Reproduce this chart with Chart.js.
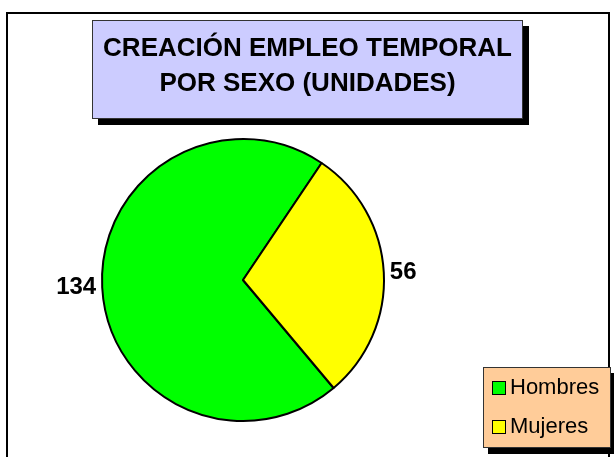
<html>

<head>
    <script src="https://cdn.jsdelivr.net/npm/chart.js"></script>
    <style>
        body {
            margin: 0;
            background: #fff;
            font-family: "Liberation Sans", Arial, sans-serif;
        }

        #wrap {
            position: relative;
            width: 614px;
            height: 457px;
            overflow: hidden;
        }

        #frame {
            position: absolute;
            left: 6px;
            top: 12px;
            width: 600px;
            height: 470px;
            border: 2px solid #000;
        }

        #pie-chart {
            position: absolute;
            left: 0;
            top: 0;
        }

        #title-box {
            position: absolute;
            left: 92px;
            top: 20px;
            width: 429px;
            height: 88px;
            background: #ccccff;
            border: 1px solid #333;
            box-shadow: 6px 6px 0 #000;
            text-align: center;
            font-weight: bold;
            font-size: 26px;
            line-height: 35px;
            padding-top: 9px;
            box-sizing: content-box;
        }

        #legend-box {
            position: absolute;
            left: 483px;
            top: 367px;
            width: 126px;
            height: 79px;
            background: #ffcc99;
            border: 1px solid #333;
            box-shadow: 5px 6px 0 #000;
            font-size: 22px;
        }

        .item {
            position: absolute;
            left: 8px;
            height: 24px;
            line-height: 24px;
            white-space: nowrap;
        }

        .swatch {
            display: inline-block;
            width: 12px;
            height: 12px;
            border: 1.5px solid #000;
            vertical-align: -1px;
            margin-right: 4px;
        }
    </style>
</head>

<body>
    <div id="wrap">
        <div id="frame"></div>
        <canvas id="pie-chart" width="614" height="457"></canvas>
        <div id="title-box">CREACIÓN EMPLEO TEMPORAL<br>POR SEXO (UNIDADES)</div>
        <div id="legend-box"></div>
    </div>

    <script>
        const categories = ['Hombres', 'Mujeres'];
        const values = [134, 56];
        const sliceColors = ['#00ff00', '#ffff00'];

        // legend built from the same arrays
        const legendBox = document.getElementById('legend-box');
        categories.forEach((name, i) => {
            const row = document.createElement('div');
            row.className = 'item';
            row.style.top = (i === 0 ? 7 : 46) + 'px';
            row.innerHTML = '<span class="swatch" style="background:' + sliceColors[i] + '"></span>' + name;
            legendBox.appendChild(row);
        });

        // value labels just outside the pie
        const outsideLabels = {
            id: 'outsideLabels',
            afterDatasetsDraw(chart) {
                const ctx = chart.ctx;
                const meta = chart.getDatasetMeta(0);
                ctx.save();
                ctx.font = 'bold 24px "Liberation Sans", Arial, sans-serif';
                ctx.fillStyle = '#000';
                ctx.textBaseline = 'middle';
                meta.data.forEach((arc, i) => {
                    const mid = (arc.startAngle + arc.endAngle) / 2;
                    const r = arc.outerRadius + 6;
                    const x = arc.x + Math.cos(mid) * r;
                    const y = arc.y + Math.sin(mid) * r;
                    ctx.textAlign = Math.cos(mid) < 0 ? 'right' : 'left';
                    ctx.fillText(values[i], x, y);
                });
                ctx.restore();
            }
        };

        const ctx = document.getElementById('pie-chart').getContext('2d');
        new Chart(ctx, {
            type: 'pie',
            data: {
                labels: categories,
                datasets: [{
                    data: values,
                    backgroundColor: sliceColors,
                    borderColor: '#000',
                    borderWidth: 2
                }]
            },
            options: {
                responsive: false,
                animation: false,
                rotation: 140,
                layout: {
                    padding: { left: 101, right: 229, top: 138, bottom: 35 }
                },
                plugins: {
                    legend: { display: false },
                    title: { display: false },
                    tooltip: { enabled: false }
                }
            },
            plugins: [outsideLabels]
        });
    </script>
</body>

</html>
